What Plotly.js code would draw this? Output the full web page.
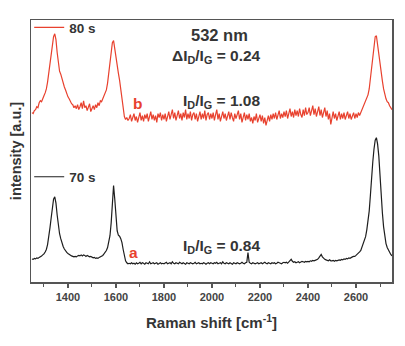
<!DOCTYPE html>
<html>
<head>
<meta charset="utf-8">
<script src="https://cdn.plot.ly/plotly-3.0.1.min.js"></script>
<style>html,body{margin:0;padding:0;background:#fff;}#chart{width:405px;height:346px;}</style>
</head>
<body>
<div id="chart"></div>
<script>
// Raman shift sampling grid (cm^-1)
const xStart = 1250;
const xStep = 5;

// 70 s spectrum (black), intensity in arbitrary units
const spec70s = [
  23.4,23,24,23.5,24.5,24,25,25.5,26.5,27.5,
  28.5,30.5,33,38,45,55,65,76,84,86.5,
  80,68,57,49,44,39.5,36,33.5,31.5,30,
  29,28,27.5,26.5,26,25.5,26,25.5,26.5,27,
  26.5,27.5,26.5,27.5,27,26,27,26,25.5,26,
  25,24.5,25,24,24.5,24,25,25.5,26,27,
  28.5,30,32,35,40,47,60,80,98,84,
  62,52,47.5,46.5,44,40,33,26.5,21.5,19.5,
  18.5,
  19,18.5,19.5,18.5,19,18,19.5,18.5,19,20,
  18.5,19.5,19,18,19.5,19,18.5,20.5,18.5,19,
  19.5,18.5,19,19.5,18,19,19.5,18.5,19,18.5,
  19,20,18.5,19,19.5,18.5,20.5,19,18.5,19.5,
  19,18.5,20,19,18.5,19.5,19,18,19.5,19,
  18.5,19.5,19,18.5,19,20,18.5,19,19.5,18.5,
  19,18.5,19.5,19,18,19,19.5,18.5,19.5,19,
  18.5,19.5,19,20,18.5,19,19.5,18.5,20.5,19,
  18.5,19.5,19,18.5,19.5,19,18,19.5,19,18.5,
  19.5,19,18.5,19,20,19,18.5,19.5,20,30,
  20,19,18.5,19.5,19,18.5,19,19.5,18.5,19,
  19.5,18.5,19,20,19,18.5,19.5,19,18.5,19.5,
  19,19.5,18.5,19,20,19.5,19,18.5,19.5,20,
  19.5,20,19,20.5,21,23,21,20,20.5,19.5,
  20,20.5,19.5,20,21,20.5,20,21,20.5,
  21,20.5,21.5,21,22,21.5,22,22.5,23,24.5,
  27,28,25.5,24,23,22.5,22,21.5,22.5,21.5,
  21.5,22,21,22,21.5,22,22.5,22,23,22.5,
  23.5,23,24,23.5,24.5,24,25,25.5,26,26,
  27,28,29,30.5,32,35,38,42,46,53,
  62,72,88,108,122,135,144,146.5,140,128,
  105,88,70,56,46,39,35,32,30,28,
  26.5
];

// 80 s spectrum (red), intensity in arbitrary units
const spec80s = [
  172,171,174,175,178,177,182,184,183,187,
  189,192,196,203,212,222,235,242,249,252,
  246,233,222,214,211,206,204,198,195,191,
  188,186,183,181,180,177,179,176,180,175,
  178,182,176,184,177,179,174,178,181,173,
  176,179,175,180,177,182,179,184,183,186,
  189,191,195,202,212,224,236,243,245,236,
  225,218,212,205,196,186,175,168,165,167,
  164,
  166,170,163,167,171,164,168,162,167,172,
  164,169,163,170,166,171,163,167,173,165,
  170,164,169,162,171,167,172,164,170,165,
  171,163,168,173,165,170,175,166,172,164,
  170,174,166,171,164,172,167,175,165,171,
  166,173,164,170,172,165,171,163,168,173,
  165,171,166,174,164,170,172,165,171,166,
  172,164,170,175,165,171,163,168,173,166,
  171,164,170,173,165,172,167,163,171,166,
  170,174,165,171,162,168,172,164,170,165,
  171,163,167,161,168,164,171,162,167,170,
  163,169,161,167,159,165,169,163,170,165,
  171,166,172,165,170,174,166,171,167,173,
  168,174,166,172,176,168,173,167,175,169,
  174,168,176,170,167,175,169,177,170,
  172,177,169,175,179,170,176,168,174,178,
  169,175,167,173,177,168,174,165,171,160,
  168,173,166,171,164,170,173,165,171,166,
  172,165,170,173,166,171,165,170,172,166,
  171,167,172,169,172,174,177,181,183,186,
  190,196,207,220,233,242,249,250,240,230,
  218,210,204,196,190,186,183,182,179,177,
  175
];

const xTicks = [1400,1600,1800,2000,2200,2400,2600];
const seriesNames = ['80 s','70 s'];

const xs = spec70s.map((_, i) => xStart + i * xStep);

const red = '#e8412e';
const txt = '#353535';
const fontFam = '"Liberation Sans", Arial, sans-serif';

const traces = [
  {x: xs, y: spec80s, type: 'scatter', mode: 'lines', name: seriesNames[0],
   line: {color: red, width: 1.2}, legend: 'legend'},
  {x: xs, y: spec70s, type: 'scatter', mode: 'lines', name: seriesNames[1],
   line: {color: '#1e1e1e', width: 1.2}, legend: 'legend2'}
];

const legendCommon = {
  xanchor: 'left', yanchor: 'top', bgcolor: 'rgba(0,0,0,0)',
  font: {family: fontFam, size: 13.5, color: txt, weight: 'bold'},
  itemwidth: 30, tracegroupgap: 0
};

const layout = {
  width: 405, height: 346,
  margin: {l: 31, r: 13, t: 16, b: 64},
  paper_bgcolor: '#fff', plot_bgcolor: '#fff',
  font: {family: fontFam, color: txt},
  showlegend: true,
  legend: Object.assign({x: -0.005, y: 1.03}, legendCommon),
  legend2: Object.assign({x: -0.005, y: 0.46}, legendCommon),
  xaxis: {
    range: [1246, 2750],
    tickvals: xTicks, ticktext: xTicks.map(String),
    ticks: 'outside', ticklen: 4, tickwidth: 1.2, tickcolor: '#555',
    minor: {dtick: 100, tick0: 1300, ticks: 'outside', ticklen: 3, tickwidth: 1, tickcolor: '#555'},
    showline: true, linecolor: '#555', linewidth: 1.5, mirror: true,
    showgrid: false, zeroline: false,
    tickfont: {family: fontFam, size: 11, color: '#444', weight: 'bold'},
    title: {text: 'Raman shift [cm<sup>-1</sup>]', font: {family: fontFam, size: 15, color: txt, weight: 'bold'}, standoff: 16}
  },
  yaxis: {
    range: [0, 266],
    showticklabels: false, ticks: '',
    showline: true, linecolor: '#555', linewidth: 1.5, mirror: true,
    showgrid: false, zeroline: false,
    title: {text: 'intensity [a.u.]', font: {family: fontFam, size: 14.5, color: txt, weight: 'bold'}, standoff: 4}
  },
  annotations: [
    {text: '532 nm', x: 0.522, y: 0.942, size: 16.5},
    {text: '\u0394I<sub>D</sub>/I<sub>G</sub> = 0.24', x: 0.513, y: 0.862},
    {text: 'I<sub>D</sub>/I<sub>G</sub> = 1.08', x: 0.528, y: 0.69},
    {text: 'I<sub>D</sub>/I<sub>G</sub> = 0.84', x: 0.528, y: 0.137},
    {text: 'b', x: 0.294, y: 0.683, color: red},
    {text: 'a', x: 0.283, y: 0.113, color: red}
  ].map(a => ({
    text: a.text, x: a.x, y: a.y, xref: 'paper', yref: 'paper',
    xanchor: 'center', yanchor: 'middle', showarrow: false,
    font: {family: fontFam, size: a.size || 15.5, color: a.color || txt, weight: 'bold'}
  }))
};

Plotly.newPlot('chart', traces, layout, {displayModeBar: false, staticPlot: true});
</script>
</body>
</html>
